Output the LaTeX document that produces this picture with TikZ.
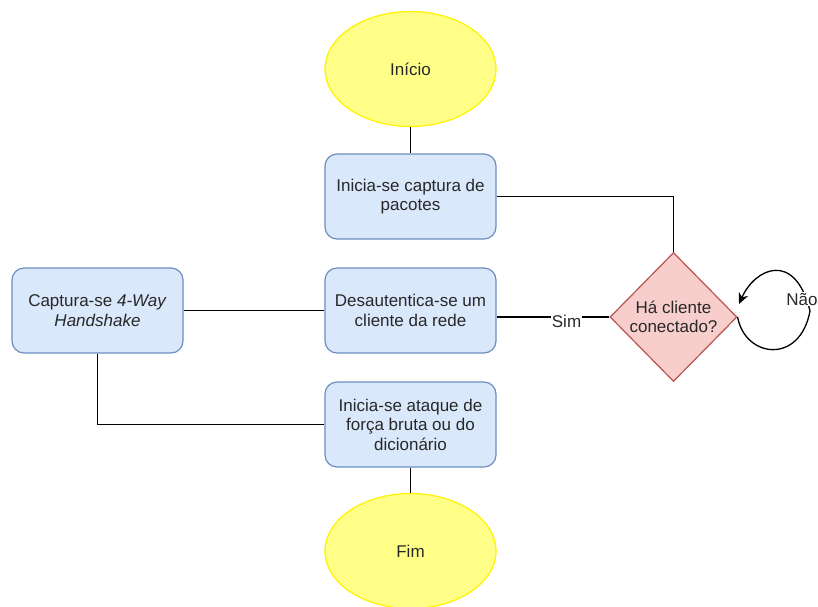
\documentclass[tikz,border=0pt]{standalone}
\usepackage{fontspec}
\setmainfont{Liberation Sans}
\usepackage{tikz}
\usetikzlibrary{shapes.geometric, arrows.meta}

\definecolor{txtgray}{RGB}{40,40,40}
\definecolor{startfill}{RGB}{255,255,136}
\definecolor{startline}{RGB}{255,242,0}
\definecolor{boxfill}{RGB}{218,232,252}
\definecolor{boxline}{RGB}{108,142,191}
\definecolor{decfill}{RGB}{248,206,204}
\definecolor{decline}{RGB}{184,84,80}

\begin{document}
\begin{tikzpicture}[x=1pt, y=-1pt,
  font=\fontsize{17}{19.5}\selectfont, text=txtgray,
  terminal/.style={ellipse, draw=startline, fill=startfill, line width=1.2pt,
    minimum width=171pt, minimum height=115pt, inner sep=0pt},
  process/.style={rectangle, rounded corners=12pt, draw=boxline, fill=boxfill,
    line width=1.2pt, minimum width=171pt, minimum height=85pt, align=center, inner sep=0pt},
  decision/.style={diamond, draw=decline, fill=decfill, line width=1.2pt,
    minimum width=127pt, minimum height=129pt, align=center, inner sep=0pt},
  link/.style={draw=black, line width=1.3pt},
  edgelabel/.style={fill=white, inner sep=1pt}]
\useasboundingbox (0,0) rectangle (818,606);

% nodes
\node[terminal] (inicio) at (410.5,69) {Início};
\node[process] (captura) at (410.5,196.5) {Inicia-se captura de\\pacotes};
\node[process] (desaut) at (410.5,310.5) {Desautentica-se um\\cliente da rede};
\node[process] (handshake) at (97.5,310.5) {Captura-se \textit{4-Way}\\\textit{Handshake}};
\node[process] (ataque) at (410.5,424.5) {Inicia-se ataque de\\força bruta ou do\\dicionário};
\node[terminal] (fim) at (410.5,551) {Fim};
\node[decision] (conectado) at (673.5,317) {Há cliente\\conectado?};

\coordinate (loopR) at (810,311);
\coordinate (loopEnd) at (739,304);

% connectors
\draw[link] (inicio) -- (captura);
\draw[link] (captura.east) -| (conectado.north);
\draw[link] (conectado.west) -- node[edgelabel, pos=0.38, yshift=-4pt] {Sim} (conectado.west -| desaut.east);
\draw[link] (desaut.west) -- (handshake.east);
\draw[link] (handshake.south) |- (ataque.west);
\draw[link] (ataque) -- (fim);
\draw[link, -{Stealth[length=11pt, width=10pt]}] (conectado.east)
  .. controls (745,358) and (800,365) .. (loopR)
  .. controls (795,250) and (755,268) .. (loopEnd);
\node[edgelabel] (nao) at (802,299) {Não};
\end{tikzpicture}
\end{document}
